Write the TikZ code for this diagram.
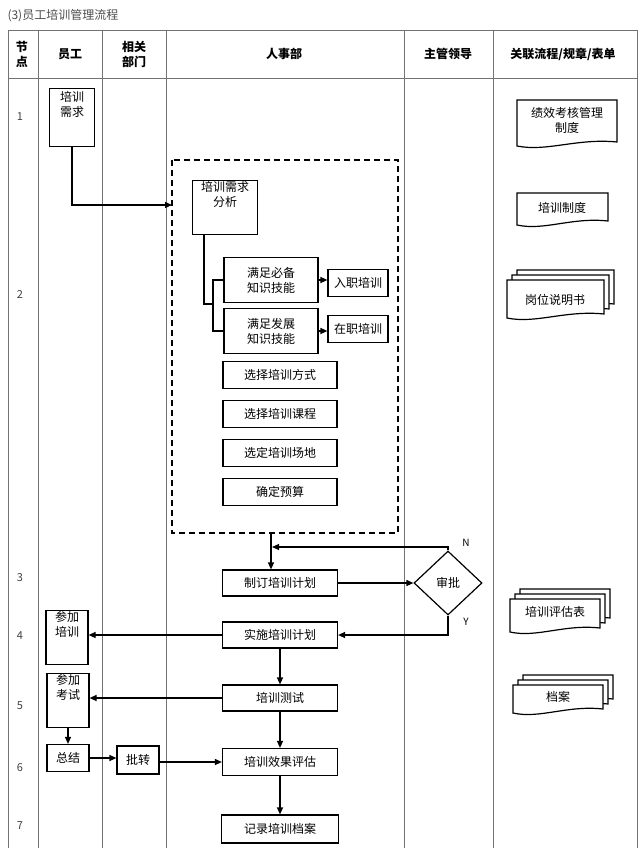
\documentclass[tikz,border=0pt]{standalone}
\usepackage{fontspec}
\setmainfont{Noto Sans CJK SC}
\usetikzlibrary{shapes.geometric,arrows.meta,positioning}
\tikzset{
  box/.style={draw,line width=1.2pt,fill=white,inner sep=1pt,align=center,font=\fontsize{12}{15}\selectfont},
  tall/.style={box,text depth=0pt,inner ysep=4pt},
  flow/.style={-{Triangle[length=7pt,width=6pt]},line width=1.2pt},
  grid/.style={draw=black!55,line width=0.8pt},
  hd/.style={font=\fontsize{12}{15}\selectfont\bfseries,align=center},
  num/.style={font=\fontsize{11}{13}\selectfont,text=black!75},
  doc/.style={font=\fontsize{12}{15}\selectfont,align=center}
}
% wavy-bottom document shape
\newcommand{\docbox}[4]{%
  \draw[line width=1.2pt,fill=white] ({#1},{#2}) -- ({#1},{#4}) .. controls ({(#1)+0.3*((#3)-(#1))},{(#4)+6}) and ({(#1)+0.6*((#3)-(#1))},{(#4)-8}) .. ({#3},{(#4)-4}) -- ({#3},{#2}) -- cycle;}
\begin{document}
\begin{tikzpicture}[x=1pt,y=-1pt]
\useasboundingbox (0,0) rectangle (640,848);
\node[anchor=west,font=\fontsize{12}{14}\selectfont,text=black!70] (title) at (4,16) {(3)员工培训管理流程};
% table
\draw[grid] (8,848) -- (8,30) -- (637,30) -- (637,848);
\draw[grid] (8,78) -- (637,78);
\foreach \cx in {38,102,166,404,493} \draw[grid] (\cx,30) -- (\cx,848);
\node[hd] (h1) at (22,54) {节\\点};
\node[hd] (h2) at (70,54) {员工};
\node[hd] (h3) at (134,54) {相关\\部门};
\node[hd] (h4) at (284,54) {人事部};
\node[hd] (h5) at (448,54) {主管领导};
\node[hd] (h6) at (563,54) {关联流程/规章/表单};
\foreach \n/\yy in {1/117,2/295,3/578,4/636,5/706,6/768,7/826}
  \node[num] (n\n) at (20,\yy) {\n};
% dashed group
\draw[line width=1.2pt,dash pattern=on 6pt off 4pt] (172,160) rectangle (398,533);
\coordinate (grpL) at (172,205);
\coordinate (grpB) at (271,533);
% nodes
\node[box,minimum width=45pt,minimum height=58pt,anchor=north] (need) at (72,88) {\\[-8pt]培训\\需求\\[10pt]};
\node[box,minimum width=65pt,minimum height=53pt,anchor=north] (anal) at (225,180) {培训需求\\分析\\[12pt]};
\node[box,minimum width=94pt,minimum height=45pt] (must) at (271,280) {满足必备\\知识技能};
\node[box,minimum width=94pt,minimum height=45pt] (dev) at (271,331) {满足发展\\知识技能};
\node[box,minimum width=60pt,minimum height=27pt] (entry) at (358,283) {入职培训};
\node[box,minimum width=60pt,minimum height=27pt] (onjob) at (358,329) {在职培训};
\node[box,minimum width=114pt,minimum height=27pt] (way) at (280,375) {选择培训方式};
\node[box,minimum width=114pt,minimum height=27pt] (course) at (280,414) {选择培训课程};
\node[box,minimum width=114pt,minimum height=27pt] (site) at (280,453) {选定培训场地};
\node[box,minimum width=114pt,minimum height=27pt] (budget) at (280,492) {确定预算};
\node[box,minimum width=115pt,minimum height=26pt] (plan) at (280,583) {制订培训计划};
\node[box,diamond,minimum width=68pt,minimum height=64pt,inner sep=0pt] (appr) at (448,583) {审批};
\node[box,minimum width=115pt,minimum height=26pt] (impl) at (280,635) {实施培训计划};
\node[box,minimum width=115pt,minimum height=26pt] (test) at (280,698) {培训测试};
\node[box,minimum width=115pt,minimum height=27pt] (eval) at (280,762) {培训效果评估};
\node[box,minimum width=117pt,minimum height=28pt] (rec) at (280,829) {记录培训档案};
\node[box,minimum width=42pt,minimum height=52pt,anchor=north] (join) at (67,610) {参加\\培训\\[12pt]};
\node[box,minimum width=42pt,minimum height=52pt,anchor=north] (exam) at (68,673) {参加\\考试\\[12pt]};
\node[box,minimum width=42pt,minimum height=27pt] (sum) at (68,758) {总结};
\node[box,minimum width=42pt,minimum height=28pt] (fwd) at (138,760) {批转};
% bracket
\coordinate (brk) at (213,304);
\draw[line width=1.2pt] (anal.south -| 204,0) |- (brk);
\draw[line width=1.2pt] (must.west) -| (brk) |- (dev.west);
\draw[flow] (must) -- (entry.west |- must);
\draw[flow] (dev) -- (onjob.west |- dev);
% connectors
\draw[flow] (need.south) |- (grpL);
\draw[flow] (grpB) -- (plan.north -| grpB);
\draw[flow] (plan) -- (appr);
\draw[flow] (appr.north) |- (272,547);
\draw[flow] (appr.south) |- (impl.east);
\node[font=\fontsize{10}{12}\selectfont] (lN) at (466,543) {N};
\node[font=\fontsize{10}{12}\selectfont] (lY) at (466,622) {Y};
\draw[flow] (impl) -- (join.east |- impl);
\draw[flow] (impl) -- (test);
\draw[flow] (test) -- (exam.east |- test);
\draw[flow] (test) -- (eval);
\draw[flow] (exam.south -| sum) -- (sum);
\draw[flow] (sum) -- (fwd.west |- sum);
\draw[flow] (fwd.east |- eval) -- (eval);
\draw[flow] (eval) -- (rec);
% documents
\docbox{517}{100}{617}{146}
\node[doc] (d1) at (567,120) {绩效考核管理\\制度};
\docbox{517}{193}{608}{225}
\node[doc] (d2) at (562,208) {培训制度};
\foreach \o in {10,5,0} \docbox{\o+507}{280-\o}{\o+604}{318-\o}
\node[doc] (d3) at (555,300) {岗位说明书};
\foreach \o in {10,5,0} \docbox{\o+510}{599-\o}{\o+600}{632-\o}
\node[doc] (d4) at (555,612) {培训评估表};
\foreach \o in {10,5,0} \docbox{\o+513}{685-\o}{\o+603}{713-\o}
\node[doc] (d5) at (558,697) {档案};
\end{tikzpicture}
\end{document}
